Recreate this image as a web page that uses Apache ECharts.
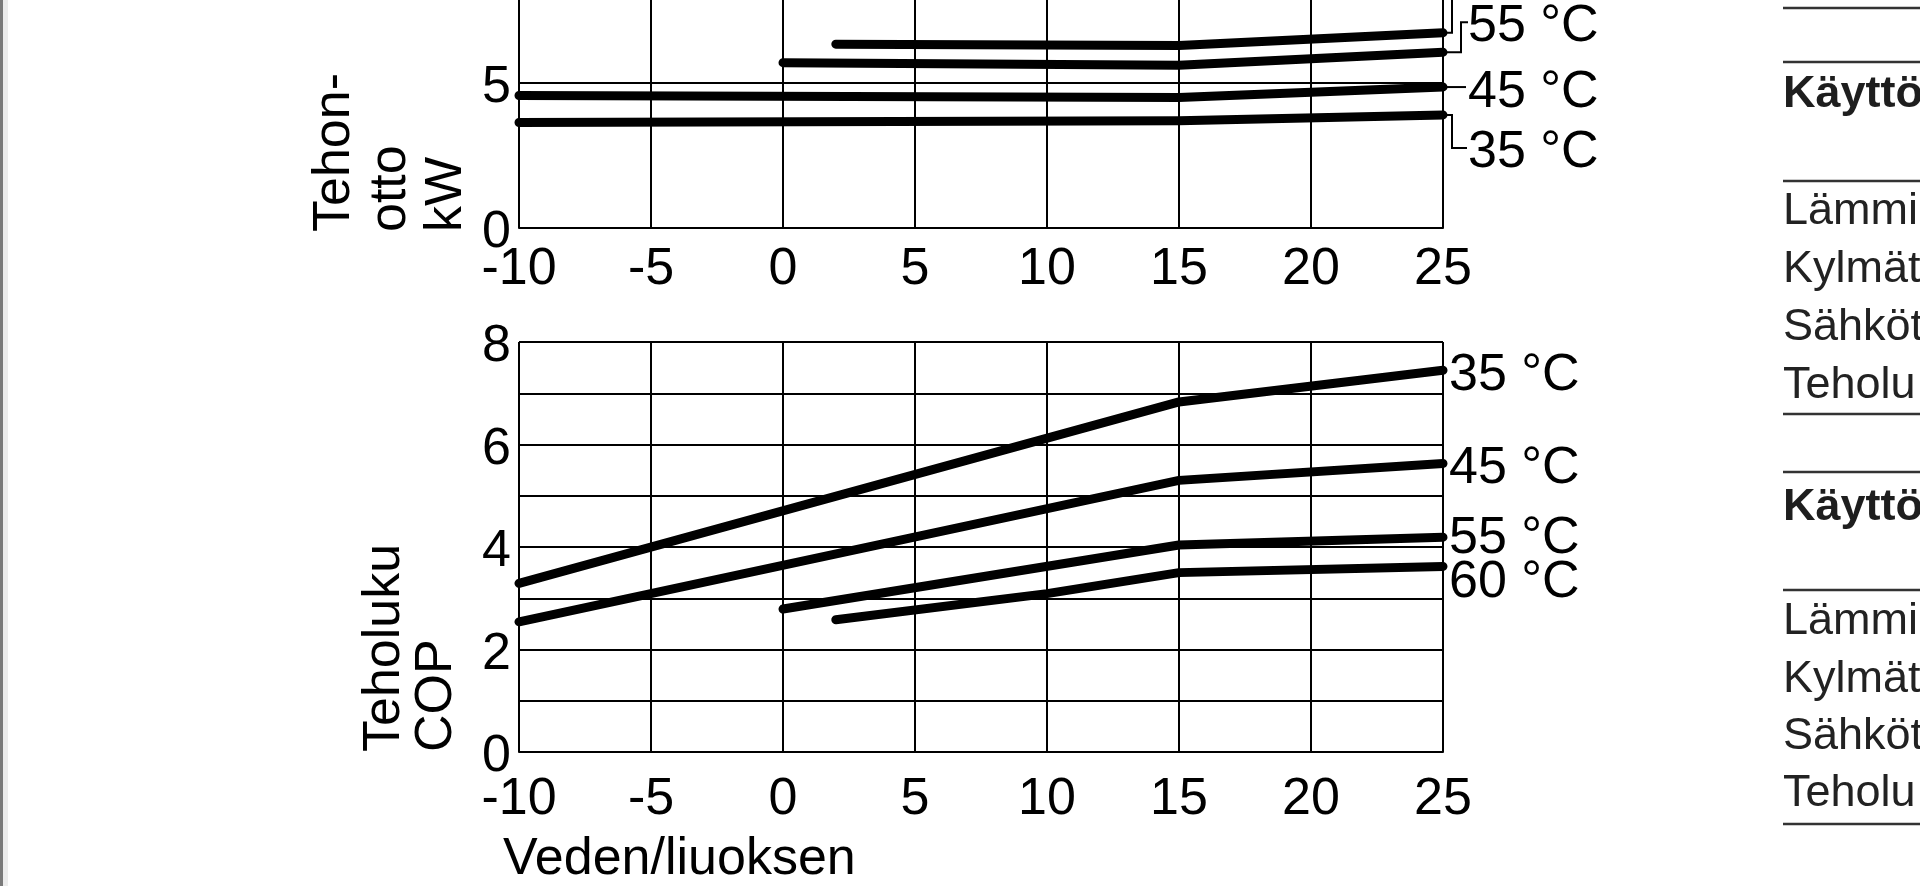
<!DOCTYPE html>
<html><head><meta charset="utf-8">
<script src="https://cdn.jsdelivr.net/npm/echarts@6/dist/echarts.min.js"></script>
<style>html,body{margin:0;padding:0;background:#fff;overflow:hidden}#c{width:1920px;height:886px}</style>
</head><body><div id="c"></div>
<script>
// ---------- data ----------
const seriesNames = ['35 °C', '45 °C', '55 °C', '60 °C'];
// Power input (Tehon-otto, kW)
const powX35 = [-10, 15, 25];  const pow35 = [3.64, 3.70, 3.90];
const powX45 = [-10, 15, 25];  const pow45 = [4.57, 4.50, 4.86];
const powX55 = [0, 15, 25];    const pow55 = [5.70, 5.61, 6.06];
const powX60 = [2, 15, 25];    const pow60 = [6.34, 6.29, 6.73];
// COP (Teholuku)
const copX35 = [-10, 15, 25];  const cop35 = [3.29, 6.83, 7.45];
const copX45 = [-10, 15, 25];  const cop45 = [2.54, 5.30, 5.63];
const copX55 = [0, 15, 25];    const cop55 = [2.79, 4.04, 4.19];
const copX60 = [2, 10, 15, 25]; const cop60 = [2.58, 3.09, 3.50, 3.62];
const xMin = -10, xMax = 25, xStep = 5;
const powMax = 10, powStep = 5;
const copMax = 8, copStep = 1;
const yNameTop = 'Tehon-\notto\nkW';
const yNameBottom = 'Teholuku\nCOP';
const xName = 'Veden/liuoksen';
const tableHead = 'Käyttö';
const tableRows = ['Lämmi', 'Kylmät', 'Sähköt', 'Teholu'];

// ---------- chart ----------
const FONT = "'Liberation Sans', Arial, Helvetica, sans-serif";
const FS = 52;
const zip = (xs, ys) => xs.map((x, i) => [x, ys[i]]);
const chart = echarts.init(document.getElementById('c'), null, {renderer: 'canvas'});

const gridLine = {show: true, lineStyle: {color: '#000', width: 2}};
function xAxis(gi, margin) {
  return {type: 'value', gridIndex: gi, min: xMin, max: xMax, interval: xStep,
    axisLine: {show: true, onZero: false, lineStyle: {color: '#000', width: 2}},
    axisTick: {show: false}, splitLine: gridLine,
    axisLabel: {show: true, fontSize: FS, color: '#000', fontFamily: FONT, margin: margin,
      showMinLabel: true, showMaxLabel: true}};
}
function yAxis(gi, max, step, fmt) {
  return {type: 'value', gridIndex: gi, min: 0, max: max, interval: step,
    axisLine: {show: true, lineStyle: {color: '#000', width: 2}},
    axisTick: {show: false}, splitLine: gridLine,
    axisLabel: {show: true, fontSize: FS, color: '#000', fontFamily: FONT, margin: 8,
      verticalAlign: 'top', lineHeight: 10,
      formatter: fmt, showMinLabel: true, showMaxLabel: true}};
}
const lineStyle = {color: '#000', width: 9, cap: 'round', join: 'round'};
function ser(name, data, gi, extra) {
  return Object.assign({type: 'line', name: name, data: data, xAxisIndex: gi, yAxisIndex: gi,
    showSymbol: false, symbol: 'none', lineStyle: lineStyle, silent: true, z: 5}, extra || {});
}
function endLab(dy) {
  return {endLabel: {show: true, formatter: '{a}', fontSize: FS, color: '#000', fontFamily: FONT,
    distance: 6, offset: [0, dy]}};
}

chart.setOption({
  animation: false,
  backgroundColor: '#fff',
  grid: [
    {left: 519, width: 924, top: -62, height: 290, containLabel: false, outerBoundsMode: 'none'},
    {left: 519, width: 924, top: 342, height: 410, containLabel: false, outerBoundsMode: 'none'}
  ],
  xAxis: [xAxis(0, 16), xAxis(1, 22)],
  yAxis: [
    yAxis(0, powMax, powStep, v => String(v)),
    yAxis(1, copMax, copStep, v => (v % 2 === 0 ? String(v) : ''))
  ],
  series: [
    ser(seriesNames[0], zip(powX35, pow35), 0),
    ser(seriesNames[1], zip(powX45, pow45), 0),
    ser(seriesNames[2], zip(powX55, pow55), 0),
    ser(seriesNames[3], zip(powX60, pow60), 0),
    ser(seriesNames[0], zip(copX35, cop35), 1, endLab(5)),
    ser(seriesNames[1], zip(copX45, cop45), 1, endLab(5)),
    ser(seriesNames[2], zip(copX55, cop55), 1, endLab(1)),
    ser(seriesNames[3], zip(copX60, cop60), 1, endLab(16))
  ]
});

// ---------- decorations computed from the chart's own scales ----------
const last = a => a[a.length - 1];
const P = (si, x, y) => chart.convertToPixel({seriesIndex: si}, [x, y]);
const e35 = P(0, last(powX35), last(pow35));
const e45 = P(1, last(powX45), last(pow45));
const e55 = P(2, last(powX55), last(pow55));
const e60 = P(3, last(powX60), last(pow60));
const ax = e35[0];
function txt(text, x, y, size, opts) {
  opts = opts || {};
  return Object.assign({type: 'text', x: x, y: y, silent: true, z: 20,
    style: {text: text, fill: opts.fill || '#000', font: (opts.weight || 'normal') + ' ' + size + 'px ' + FONT,
      lineHeight: opts.lh, align: opts.align || 'left', verticalAlign: opts.va || 'middle',
      textAlign: opts.align || 'left', textVerticalAlign: opts.va || 'middle'}}, opts.el || {});
}
function pl(points, color, w) {
  return {type: 'polyline', silent: true, z: 20, shape: {points: points},
    style: {stroke: color || '#000', lineWidth: w || 2, fill: null}};
}
const l55y = e55[1] - 30, l45y = e45[1] + 1, l35y = e35[1] + 33;
const g = [
  // left page edge
  {type: 'rect', shape: {x: 0, y: 0, width: 3, height: 886}, style: {fill: '#7a7a7a'}, silent: true},
  {type: 'rect', shape: {x: 3, y: 0, width: 5, height: 886}, style: {fill: '#ececec'}, silent: true},
  // top chart label brackets
  pl([[e60[0], e60[1]], [ax + 9, e60[1]], [ax + 9, -20]]),
  pl([[e55[0], e55[1]], [ax + 18, e55[1]], [ax + 18, l55y], [ax + 25, l55y]]),
  pl([[e45[0], e45[1]], [ax + 23, e45[1]]]),
  pl([[e35[0], e35[1]], [ax + 9, e35[1]], [ax + 9, l35y], [ax + 24, l35y]]),
  txt(seriesNames[2], ax + 25, l55y + 4, FS),
  txt(seriesNames[1], ax + 25, l45y + 5, FS),
  txt(seriesNames[0], ax + 25, l35y + 5, FS),
  // axis names
  txt(yNameTop, 307, 232, FS, {lh: 56, va: 'top', el: {rotation: Math.PI / 2}}),
  txt(yNameBottom, 359, 752, FS, {lh: 52, va: 'top', el: {rotation: Math.PI / 2}}),
  txt(xName, 503, 860, FS),
];
// right-hand document table fragment
const tx = 1783;
[8, 62, 181, 414, 472, 590, 824].forEach(y => g.push(pl([[tx, y], [1920, y]], '#333', 2.5)));
g.push(txt(tableHead, tx, 95, 45, {weight: 'bold', fill: '#1e1e1e'}));
g.push(txt(tableHead, tx, 508, 45, {weight: 'bold', fill: '#1e1e1e'}));
[212, 270, 328, 386].forEach((y, i) => g.push(txt(tableRows[i], tx, y, 45, {fill: '#222'})));
[622, 680, 737, 794].forEach((y, i) => g.push(txt(tableRows[i], tx, y, 45, {fill: '#222'})));
chart.setOption({graphic: g});
</script></body></html>
